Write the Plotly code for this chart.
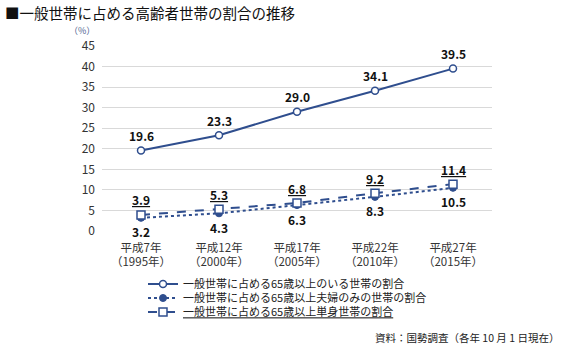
import plotly.graph_objects as go

categories = ["平成7年<br>（1995年）", "平成12年<br>（2000年）", "平成17年<br>（2005年）",
              "平成22年<br>（2010年）", "平成27年<br>（2015年）"]
s_all65 = [19.6, 23.3, 29.0, 34.1, 39.5]
s_couple = [3.2, 4.3, 6.3, 8.3, 10.5]
s_single = [3.9, 5.3, 6.8, 9.2, 11.4]
names = ["一般世帯に占める65歳以上のいる世帯の割合",
         "一般世帯に占める65歳以上夫婦のみの世帯の割合",
         "<span style=\"text-decoration:underline\">一般世帯に占める65歳以上単身世帯の割合</span>"]
y_ticks = [0, 5, 10, 15, 20, 25, 30, 35, 40, 45]

C = "#2F4E8E"
FONT = "Noto Sans CJK JP"
PW, PH, L, T = 390, 185, 102, 46


def px_x(p):
    return (p - L) / PW


def px_y(p):
    return (T + PH - p) / PH


fig = go.Figure()
fig.add_trace(go.Scatter(
    x=categories, y=s_all65, name=names[0], mode="lines+markers", legend="legend",
    line=dict(color=C, width=2),
    marker=dict(symbol="circle", size=7, color="white", line=dict(color=C, width=1.5))))
fig.add_trace(go.Scatter(
    x=categories, y=s_couple, name=names[1], mode="lines+markers", legend="legend2",
    line=dict(color=C, width=2, dash="dot"),
    marker=dict(symbol="circle", size=7, color=C, line=dict(color=C, width=1))))
fig.add_trace(go.Scatter(
    x=categories, y=s_single, name=names[2], mode="lines+markers", legend="legend3",
    line=dict(color=C, width=2, dash="dash"),
    marker=dict(symbol="square", size=8, color="white", line=dict(color=C, width=1.5))))

lab_font = dict(size=12, color="#111111", family=FONT)
for vals, shift, ul in [(s_all65, 15, False), (s_couple, -14, False), (s_single, 15, True)]:
    for cat, v in zip(categories, vals):
        t = f"<b>{v:.1f}</b>"
        if ul:
            t = f"<span style=\"text-decoration:underline\">{t}</span>"
        fig.add_annotation(x=cat, y=v, text=t, showarrow=False, yshift=shift,
                           xanchor="center", yanchor="middle", font=lab_font)

leg_common = dict(xanchor="left", yanchor="middle", font=dict(size=11, color="#222222", family=FONT),
                  itemwidth=30, bgcolor="rgba(0,0,0,0)", borderwidth=0)
fig.update_layout(
    width=564, height=353,
    margin=dict(l=L, r=564 - L - PW, t=T, b=353 - T - PH),
    paper_bgcolor="white", plot_bgcolor="white",
    font=dict(family=FONT, color="#333333", size=11),
    showlegend=True,
    legend=dict(x=px_x(143), y=px_y(284), **leg_common),
    legend2=dict(x=px_x(143), y=px_y(298), **leg_common),
    legend3=dict(x=px_x(143), y=px_y(312), **leg_common),
    xaxis=dict(type="category", range=[-0.5, 4.5], showgrid=False, showline=False,
               ticks="", tickfont=dict(size=11.5, color="#333333"), ticklabelstandoff=8,
               fixedrange=True),
    yaxis=dict(range=[0, 45], tickvals=y_ticks, showgrid=True, gridcolor="#D9D9D9",
               gridwidth=1, zeroline=False, showline=False, ticks="", ticklabelstandoff=6,
               tickfont=dict(size=12, color="#333333"), fixedrange=True),
)
fig.add_annotation(text="■一般世帯に占める高齢者世帯の割合の推移", xref="paper", yref="paper",
                   x=px_x(3), y=px_y(12), xanchor="left", yanchor="middle", showarrow=False,
                   font=dict(size=14.5, color="#111111", family=FONT))
fig.add_annotation(text="（%）", xref="paper", yref="paper", x=px_x(97), y=px_y(31),
                   xanchor="right", yanchor="middle", showarrow=False,
                   font=dict(size=9, color="#4F5F8F", family=FONT))
fig.add_annotation(text="資料：国勢調査（各年 10 月 1 日現在）", xref="paper", yref="paper",
                   x=px_x(561), y=px_y(337), xanchor="right", yanchor="middle",
                   showarrow=False, font=dict(size=10.5, color="#222222", family=FONT))

fig.write_html("out.html")
